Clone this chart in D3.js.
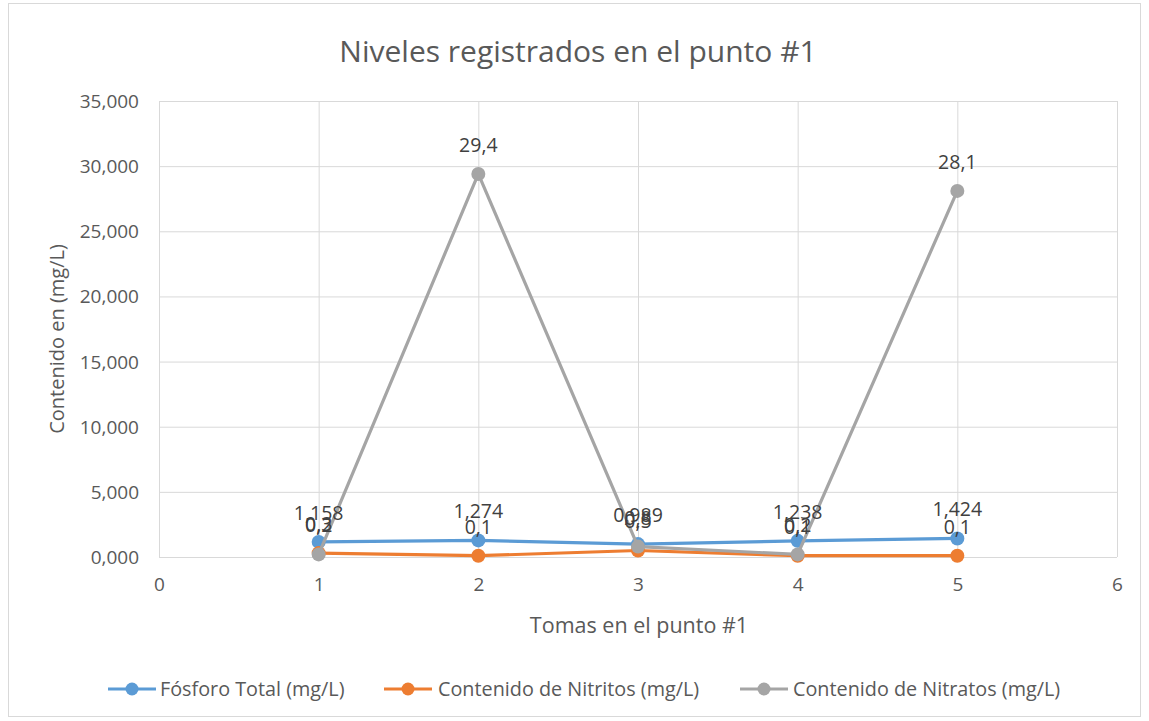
<!DOCTYPE html>
<html>
<head>
<meta charset="utf-8">
<script src="https://cdn.jsdelivr.net/npm/d3@7"></script>
<style>
  html, body { margin: 0; padding: 0; background: #fff; }
  svg { display: block; }
  text { font-family: "Open Sans", "Noto Sans", sans-serif; }
</style>
</head>
<body>
<svg id="chart" width="1149" height="721"></svg>
<script>
// Sampling points (tomas) at station #1
const tomas = [1, 2, 3, 4, 5];

// Measured levels, mg/L
const fosforoTotal = [1.158, 1.274, 0.989, 1.238, 1.424];
const nitritos = [0.3, 0.1, 0.5, 0.1, 0.1];
const nitratos = [0.2, 29.4, 0.8, 0.2, 28.1];

const seriesNames = ["Fósforo Total (mg/L)", "Contenido de Nitritos (mg/L)", "Contenido de Nitratos (mg/L)"];
const seriesColors = ["#5B9BD5", "#ED7D31", "#A5A5A5"];
const seriesDecimals = [3, 1, 1];

const xTicks = [0, 1, 2, 3, 4, 5, 6];
const yTicks = [0, 5, 10, 15, 20, 25, 30, 35];

const title = "Niveles registrados en el punto #1";
const xTitle = "Tomas en el punto #1";
const yTitle = "Contenido en (mg/L)";

const series = [fosforoTotal, nitritos, nitratos].map((vals, i) => ({
  name: seriesNames[i],
  color: seriesColors[i],
  decimals: seriesDecimals[i],
  points: vals.map((v, j) => ({ x: tomas[j], y: v }))
}));

// Spanish-style number formatting: comma as decimal separator
const es = d3.formatLocale({ decimal: ",", thousands: ".", grouping: [3], currency: ["", " €"] });

const svg = d3.select("#chart");
const plot = { left: 159, right: 1117, top: 101, bottom: 557 };

// Outer chart frame
svg.append("rect")
  .attr("x", 8.5).attr("y", 3.5)
  .attr("width", 1132).attr("height", 713)
  .attr("fill", "#fff").attr("stroke", "#d9d9d9").attr("stroke-width", 1);

const x = d3.scaleLinear().domain([0, 6]).range([plot.left, plot.right]);
const y = d3.scaleLinear().domain([0, 35]).range([plot.bottom, plot.top]);

const textColor = "#595959";

// Horizontal gridlines + y tick labels
const yAxis = d3.axisLeft(y)
  .tickValues(yTicks)
  .tickSize(-(plot.right - plot.left))
  .tickPadding(20)
  .tickFormat(es.format(",.3f"));
const gy = svg.append("g").attr("transform", `translate(${plot.left},0)`).call(yAxis);
gy.select(".domain").remove();
gy.selectAll(".tick line").attr("stroke", "#d9d9d9").attr("stroke-width", 1);
gy.selectAll(".tick text").attr("fill", textColor).attr("font-size", 19).attr("dy", "0.34em");

// Vertical gridlines + x tick labels
const xAxis = d3.axisBottom(x)
  .tickValues(xTicks)
  .tickSize(-(plot.bottom - plot.top))
  .tickPadding(21)
  .tickFormat(d3.format("d"));
const gx = svg.append("g").attr("transform", `translate(0,${plot.bottom})`).call(xAxis);
gx.select(".domain").remove();
gx.selectAll(".tick line").attr("stroke", "#d9d9d9").attr("stroke-width", 1);
gx.selectAll(".tick text").attr("fill", textColor).attr("font-size", 19).attr("dy", "0.71em");

// Titles
svg.append("text")
  .attr("x", 578).attr("y", 62)
  .attr("text-anchor", "middle")
  .attr("fill", textColor).attr("font-size", 30)
  .text(title);

svg.append("text")
  .attr("x", 639).attr("y", 633)
  .attr("text-anchor", "middle")
  .attr("fill", textColor).attr("font-size", 21.5)
  .text(xTitle);

svg.append("text")
  .attr("transform", `translate(64,${(plot.top + plot.bottom) / 2 + 10}) rotate(-90)`)
  .attr("text-anchor", "middle")
  .attr("fill", textColor).attr("font-size", 20)
  .text(yTitle);

// Series lines and markers
const line = d3.line().x(d => x(d.x)).y(d => y(d.y));
const gSeries = svg.append("g");
series.forEach(s => {
  const g = gSeries.append("g");
  g.append("path")
    .attr("d", line(s.points))
    .attr("fill", "none")
    .attr("stroke", s.color)
    .attr("stroke-width", 3.2)
    .attr("stroke-linejoin", "round")
    .attr("stroke-linecap", "round");
  g.selectAll("circle").data(s.points).join("circle")
    .attr("cx", d => x(d.x)).attr("cy", d => y(d.y))
    .attr("r", 7)
    .attr("fill", s.color);
});

// Data labels above every point
const gLabels = svg.append("g");
series.forEach(s => {
  const fmt = es.format(`.${s.decimals}f`);
  gLabels.selectAll(null).data(s.points).join("text")
    .attr("x", d => x(d.x)).attr("y", d => y(d.y) - 22)
    .attr("text-anchor", "middle")
    .attr("fill", "#404040").attr("font-size", 19.5)
    .text(d => fmt(d.y));
});

// Legend
const legendItems = [
  { x0: 108, tx: 160 },
  { x0: 384, tx: 438 },
  { x0: 740, tx: 793 }
];
const gLegend = svg.append("g");
series.forEach((s, i) => {
  const it = legendItems[i];
  const ly = 689;
  gLegend.append("line")
    .attr("x1", it.x0).attr("x2", it.x0 + 48)
    .attr("y1", ly).attr("y2", ly)
    .attr("stroke", s.color).attr("stroke-width", 3.2);
  gLegend.append("circle")
    .attr("cx", it.x0 + 24).attr("cy", ly).attr("r", 6.5)
    .attr("fill", s.color);
  gLegend.append("text")
    .attr("x", it.tx).attr("y", ly)
    .attr("dy", "0.35em")
    .attr("fill", textColor).attr("font-size", 19.8)
    .text(s.name);
});
</script>
</body>
</html>
